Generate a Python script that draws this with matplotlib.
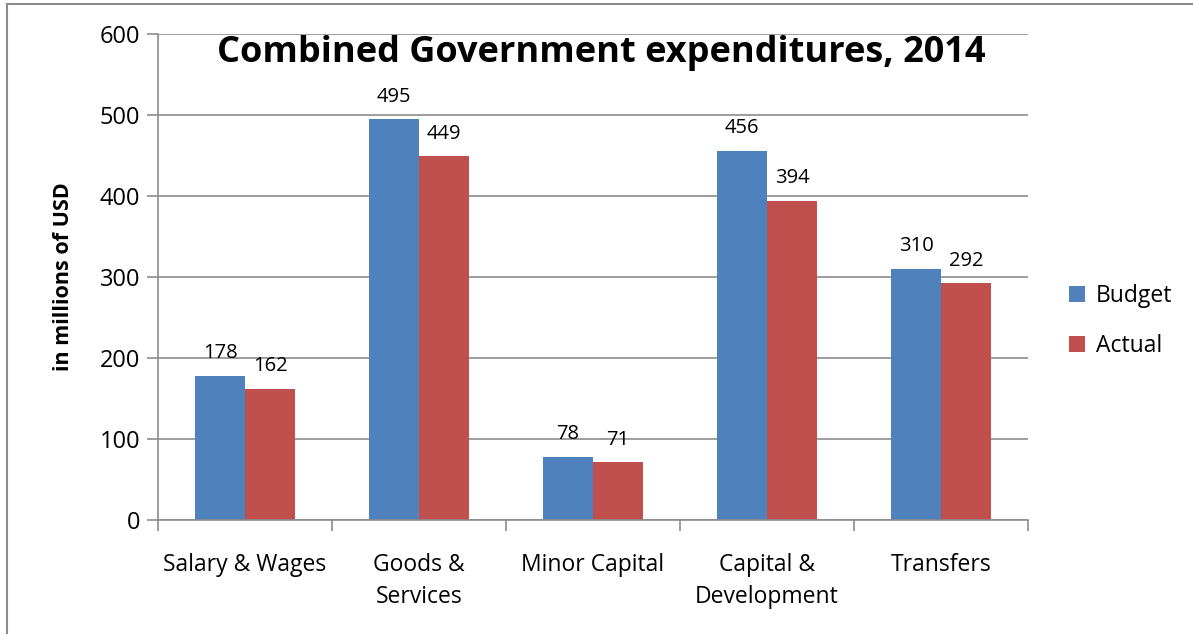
import numpy as np
import matplotlib.pyplot as plt
from matplotlib.patches import Rectangle

categories = ['Salary & Wages', 'Goods &\nServices', 'Minor Capital', 'Capital &\nDevelopment', 'Transfers']
budget = [178, 495, 78, 456, 310]
actual = [162, 449, 71, 394, 292]

plt.rcParams['font.family'] = ['Open Sans', 'DejaVu Sans']

W, H = 1193, 634
fig = plt.figure(figsize=(W / 100, H / 100), dpi=100)
ax = fig.add_axes([158 / W, 1 - 520 / H, 870 / W, 486 / H])

# outer chart border (only top and left visible in the crop)
fig.patches.append(Rectangle((7 / W, -0.1), 1.2, 1 - 4 / H + 0.1, transform=fig.transFigure,
                             fill=False, edgecolor='#8c8c8c', linewidth=1.5))

x = np.arange(len(categories))
w = 50 / 174
b1 = ax.bar(x - w / 2, budget, w, color='#4F81BD', label='Budget', zorder=2)
b2 = ax.bar(x + w / 2, actual, w, color='#C0504D', label='Actual', zorder=2)

for bars, vals in ((b1, budget), (b2, actual)):
    for r, v in zip(bars, vals):
        ax.annotate(str(v), (r.get_x() + r.get_width() / 2, v), xytext=(0, 9),
                    textcoords='offset points', ha='center', va='bottom', fontsize=14.5)

ax.set_xlim(-0.5, len(categories) - 0.5)
ax.set_ylim(0, 600)
ax.set_yticks(range(0, 601, 100))
ax.yaxis.grid(True, color='#8c8c8c', linewidth=1.2, zorder=0)
ax.set_axisbelow(True)

ax.set_xticks(np.arange(-0.5, len(categories), 1))
ax.set_xticklabels([])
ax.set_xticks(x, minor=True)
ax.set_xticklabels(categories, minor=True, fontsize=16.5, linespacing=1.4)
ax.tick_params(axis='x', which='minor', length=0, pad=24)
ax.tick_params(axis='x', which='major', length=8, color='#8c8c8c', width=1.2)
ax.tick_params(axis='y', length=8, color='#8c8c8c', width=1.2, labelsize=17, pad=5)
for lbl in ax.get_xticklabels(minor=True):
    lbl.set_verticalalignment('top')

for s in ('top', 'right'):
    ax.spines[s].set_visible(False)
for s in ('left', 'bottom'):
    ax.spines[s].set_color('#8c8c8c')
    ax.spines[s].set_linewidth(1.2)

ax.set_ylabel('in millions of USD', fontsize=15.5, fontweight='bold', labelpad=18)
fig.text(601 / W, 1 - 53 / H, 'Combined Government expenditures, 2014', ha='center', va='center',
         fontsize=26, fontweight='bold')

ax.legend(loc='center left', bbox_to_anchor=((1048 - 158) / 870, 0.41),
          frameon=False, fontsize=16.5, handlelength=0.7, handleheight=0.7,
          labelspacing=1.15, handletextpad=0.5)

fig.savefig('out.png', dpi=100)
